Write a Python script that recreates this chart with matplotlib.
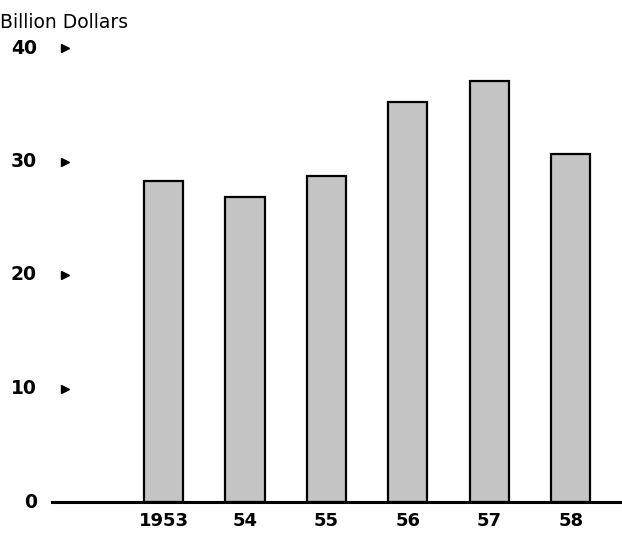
import matplotlib.pyplot as plt
import matplotlib.transforms as mtransforms

years = ["1953", "54", "55", "56", "57", "58"]
values = [28.3, 26.9, 28.7, 35.2, 37.1, 30.7]
yticks = [0, 10, 20, 30, 40]

plt.rcParams["font.family"] = ["DejaVu Sans"]

fig = plt.figure(figsize=(6.22, 5.35), dpi=100)
ax = fig.add_axes([52 / 622, 33 / 535, 1 - 52 / 622, (502 - 48) / 535])

x = list(range(len(years)))
ax.bar(x, values, width=0.48, color="#c4c4c4", edgecolor="black", linewidth=1.6, zorder=2)
ax.set_xlim(-1.37, 5.63)
ax.set_ylim(0, 40)

for side in ["left", "right", "top", "bottom"]:
    ax.spines[side].set_visible(False)
ax.axhline(0, color="black", linewidth=2.2, zorder=3, clip_on=False)
ax.set_xticks([])
ax.set_yticks([])

# category labels
for xi, label in zip(x, years):
    ax.text(xi, -0.9, label, ha="center", va="top", fontsize=13, fontweight="bold")

# value axis labels with small triangle markers
blend = mtransforms.blended_transform_factory(fig.transFigure, ax.transData)
for t in yticks:
    ax.text(37 / 622, t, str(t), transform=blend, ha="right", va="center",
            fontsize=13.5, fontweight="bold", clip_on=False)
    if t > 0:
        ax.plot([65 / 622], [t], marker=">", color="black", markersize=6,
                transform=blend, clip_on=False)

fig.text(0.0, 1 - 22 / 535, "Billion Dollars", ha="left", va="center", fontsize=13.5)

fig.savefig("out.png", dpi=100)
